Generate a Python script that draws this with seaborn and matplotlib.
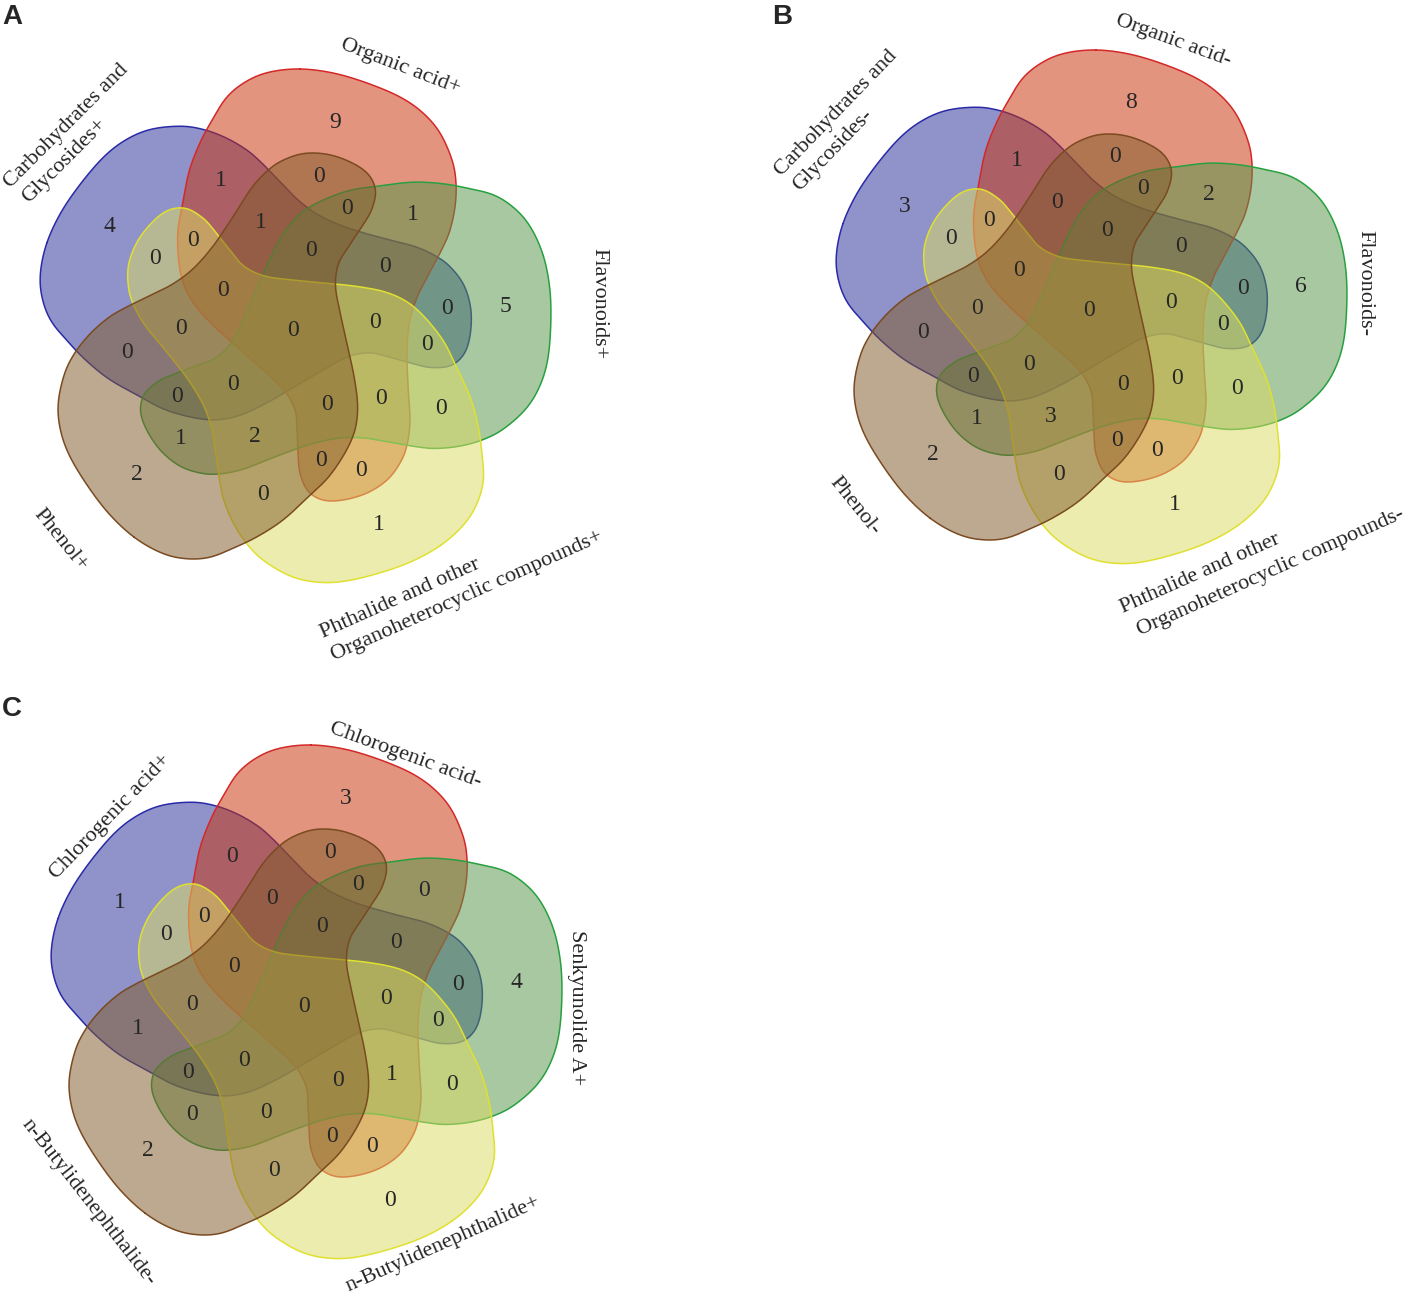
import numpy as np
import matplotlib
matplotlib.use("Agg")
import matplotlib.pyplot as plt
from matplotlib.path import Path
import seaborn as sns

# ---- data ----
# set order: blue, red, green, yellow, brown
regions = ["10000", "01000", "00100", "00010", "00001",
           "11000", "01100", "00110", "00011", "10001",
           "10100", "01010", "00101", "10010", "01001",
           "11100", "01110", "00111", "10011", "11001",
           "11010", "01101", "10110", "01011", "10101",
           "11110", "01111", "10111", "11011", "11101",
           "11111"]
counts_a = [4, 9, 5, 1, 2, 1, 1, 0, 0, 0, 0, 0, 1, 0, 0, 0, 0, 2, 0, 1,
            0, 0, 0, 0, 0, 0, 0, 0, 0, 0, 0]
counts_b = [3, 8, 6, 1, 2, 1, 2, 0, 0, 0, 0, 0, 1, 0, 0, 0, 0, 3, 0, 0,
            0, 0, 0, 0, 0, 0, 0, 0, 0, 0, 0]
counts_c = [1, 3, 4, 0, 2, 0, 0, 0, 0, 1, 0, 0, 0, 0, 0, 0, 1, 0, 0, 0,
            0, 0, 0, 0, 0, 0, 0, 0, 0, 0, 0]

names_a = ["Carbohydrates and", "Glycosides+", "Organic acid+", "Flavonoids+",
           "Phthalide and other", "Organoheterocyclic compounds+", "Phenol+"]
names_b = ["Carbohydrates and", "Glycosides-", "Organic acid-", "Flavonoids-",
           "Phthalide and other", "Organoheterocyclic compounds-", "Phenol-"]
names_c = ["Chlorogenic acid+", "Chlorogenic acid-", "Senkyunolide A+",
           "n-Butylidenephthalide+", "n-Butylidenephthalide-"]

# ---- layout ----
centers = {"A": (293, 330), "B": (1089, 311), "C": (304, 1006)}
letter_xy = {"A": (2, 4), "B": (772, 4), "C": (2, 696)}
# label anchors (baseline-left, figure px) and rotations
pos_a = [(10, 188), (29, 203), (340, 48), (594, 248), (323, 638), (334, 660), (33, 514)]
rot_a = [45, 45, -21, -90, 24, 24, -51]
pos_b = [(781, 177), (800, 192), (1115, 24), (1360, 230), (1123, 613), (1140, 635), (829, 482)]
rot_b = [46, 46, -20, -90, 24, 24, -51]
pos_c = [(56, 880), (329, 732), (572, 930), (348, 1291), (21, 1124)]
rot_c = [46, -20, -90, 24, -52]

fills = ["#28309b", "#c8320a", "#56974a", "#dbdb64", "#825b2a"]
edges = ["#2a2aa8", "#d42828", "#28a040", "#e0e030", "#7a4a20"]
shape_rot = [-72, 0, 72, 144, 216]

# one shape (red set), offsets from diagram centre in px (y down)
red_outline = np.array([
    (300, 69), (333, 73), (367, 83), (400, 97), (423, 113), (440, 133), (452, 160),
    (456, 183), (455, 207), (450, 230), (443, 247), (431, 270), (418, 295), (410, 320),
    (407, 350), (408, 385), (410, 420), (407, 445), (400, 463), (387, 480), (367, 493),
    (343, 500), (323, 500), (308, 491), (300, 473), (298, 453), (297, 430), (295, 410),
    (284, 390), (262, 369), (236, 346), (216, 328), (198, 309), (187, 292), (181, 275),
    (178, 253), (178, 230), (182, 207), (189, 172), (199, 145), (211, 122), (227, 97),
    (247, 81), (270, 72)], float) - np.array(centers["A"], float)


def smooth_closed(p, per=12):
    out = []
    t = np.linspace(0, 1, per, endpoint=False)[:, None]
    n = len(p)
    for i in range(n):
        p0, p1, p2, p3 = p[i - 1], p[i], p[(i + 1) % n], p[(i + 2) % n]
        out.append(0.5 * (2 * p1 + (-p0 + p2) * t + (2 * p0 - 5 * p1 + 4 * p2 - p3) * t ** 2
                          + (-p0 + 3 * p1 - 3 * p2 + p3) * t ** 3))
    return np.vstack(out)


def rotate(p, deg):
    a = np.deg2rad(deg)
    c, s = np.cos(a), np.sin(a)
    return np.column_stack([p[:, 0] * c - p[:, 1] * s, p[:, 0] * s + p[:, 1] * c])


base = smooth_closed(red_outline)
shapes = [rotate(base, r) for r in shape_rot]

# label positions: a deep point of each region, pulled toward its centroid
gx, gy = np.meshgrid(np.arange(-300, 300, 2.0), np.arange(-300, 300, 2.0))
grid = np.column_stack([gx.ravel(), gy.ravel()])
member = np.column_stack([Path(s).contains_points(grid) for s in shapes])
codes = np.array(["".join("1" if v else "0" for v in row) for row in member])
bnd = np.vstack(shapes)
dist = np.empty(len(grid))
for i in range(0, len(grid), 4000):
    d = grid[i:i + 4000, None, :] - bnd[None, :, :]
    dist[i:i + 4000] = np.sqrt((d ** 2).sum(-1)).min(1)
region_xy = {}
for code in regions:
    m = np.where(codes == code)[0]
    if len(m):
        cen = grid[m].mean(0)
        ok = m[dist[m] >= 0.75 * dist[m].max()]
        region_xy[code] = grid[ok[np.argmin(((grid[ok] - cen) ** 2).sum(1))]]

# ---- draw ----
sns.set_theme(style="white")
plt.rcParams["font.family"] = ["Liberation Serif", "DejaVu Serif"]

fig = plt.figure(figsize=(14.09, 12.96), dpi=100)
ax = fig.add_axes([0, 0, 1, 1])
ax.set_xlim(0, 1409)
ax.set_ylim(1296, 0)
ax.axis("off")


def draw_panel(key, counts, names, pos, rots):
    cx, cy = centers[key]
    for k, s in enumerate(shapes):
        ax.fill(s[:, 0] + cx, s[:, 1] + cy, color=fills[k], alpha=0.52, lw=0, zorder=2 * k + 1)
        xs = np.append(s[:, 0], s[0, 0]) + cx
        ys = np.append(s[:, 1], s[0, 1]) + cy
        ax.plot(xs, ys, color=edges[k], lw=1.1, zorder=2 * k + 2)
    for code, n in zip(regions, counts):
        if code in region_xy:
            x, y = region_xy[code]
            ax.text(x + cx, y + cy, str(n), ha="center", va="center", fontsize=17, zorder=20)
    for t, (x, y), r in zip(names, pos, rots):
        ax.text(x, y, t, rotation=r, rotation_mode="anchor", ha="left", va="baseline",
                fontsize=16, zorder=20)
    lx, ly = letter_xy[key]
    ax.text(lx, ly, key, ha="left", va="top", fontsize=20, fontweight="bold",
            family=["Liberation Sans", "DejaVu Sans"], zorder=20)


draw_panel("A", counts_a, names_a, pos_a, rot_a)
draw_panel("B", counts_b, names_b, pos_b, rot_b)
draw_panel("C", counts_c, names_c, pos_c, rot_c)

fig.savefig("out.png", dpi=100)
